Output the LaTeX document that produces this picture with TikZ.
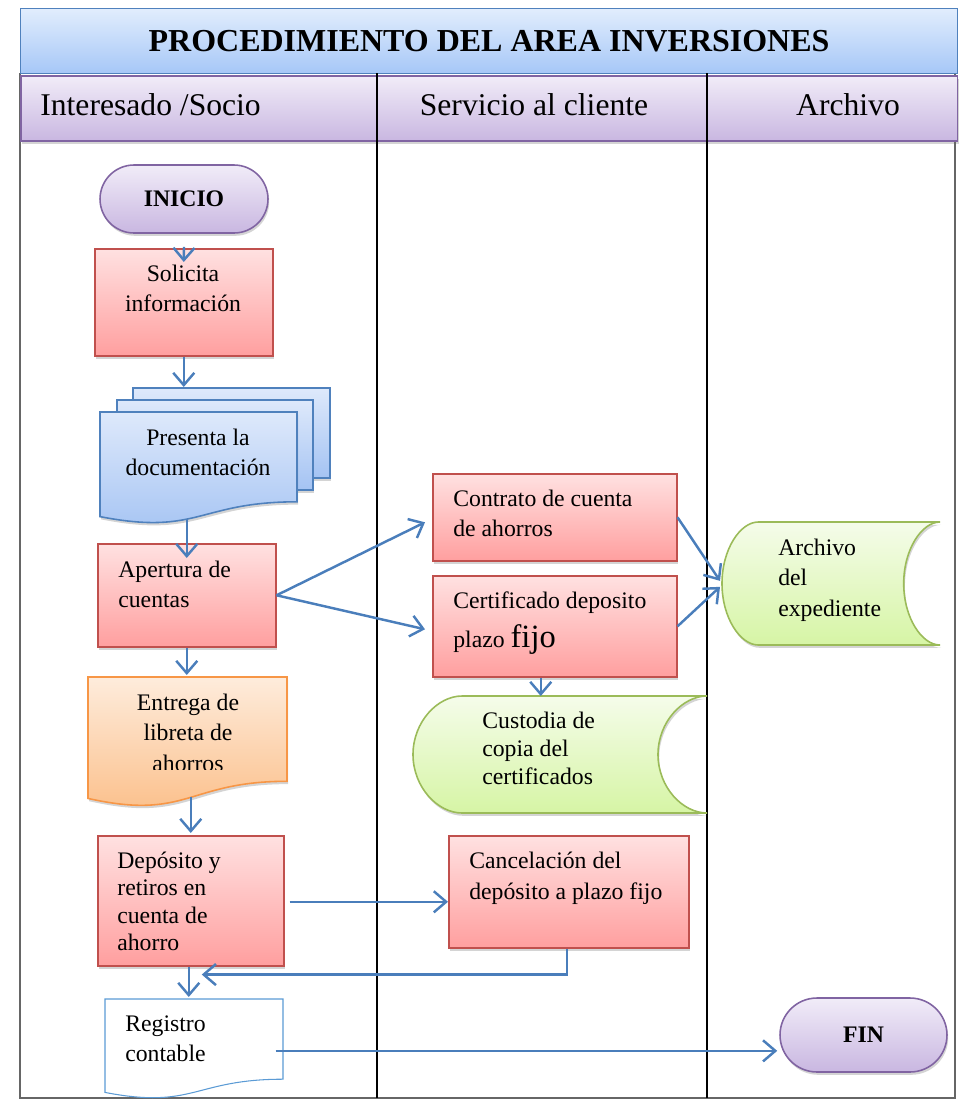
\documentclass[tikz,border=0pt]{standalone}
\usepackage{fontspec}
\setmainfont{Liberation Serif}
\usetikzlibrary{arrows.meta,calc,positioning,shadows,shapes.misc}

\definecolor{arrowblue}{HTML}{4A7EBB}
\definecolor{redline}{HTML}{C0504D}
\definecolor{redtop}{HTML}{FFE1E1}
\definecolor{redbot}{HTML}{FF9F9F}
\definecolor{blueline}{HTML}{4F81BD}
\definecolor{bluetop}{HTML}{DEE9FB}
\definecolor{bluebot}{HTML}{A4C3F3}
\definecolor{titletop}{HTML}{E1EDFD}
\definecolor{titlebot}{HTML}{A6C7F7}
\definecolor{purpline}{HTML}{8064A2}
\definecolor{purptop}{HTML}{F1ECF8}
\definecolor{purpbot}{HTML}{C9B7E1}
\definecolor{greenline}{HTML}{9BBB59}
\definecolor{greentop}{HTML}{F5FCEA}
\definecolor{greenbot}{HTML}{D6F5A5}
\definecolor{orangeline}{HTML}{F79646}
\definecolor{orangetop}{HTML}{FEECDC}
\definecolor{orangebot}{HTML}{FBBD86}
\definecolor{regline}{HTML}{5B9BD5}

% lines of text, baseline at the first line
\newcommand{\lns}[3][17.5pt]{{\fontsize{13.5}{#1}\selectfont
  \begin{tabular}[t]{@{}#2@{}}#3\end{tabular}}}

\tikzset{
  softshadow/.style={drop shadow={shadow xshift=0.7pt, shadow yshift=-1.6pt,
      opacity=0.28, fill=black!60}},
  flow/.style={draw=arrowblue, line width=1.4pt,
    -{Straight Barb[length=7pt,width=12pt]}},
  lane/.style={draw=black, line width=0.9pt},
  framel/.style={draw=black!60, line width=0.6pt},
  txt/.style={inner sep=0pt},
  hold/.style={rectangle, anchor=north west, inner sep=0pt},
  redbox/.style={hold, draw=redline, line width=0.9pt,
    top color=redtop, bottom color=redbot, softshadow},
  term/.style={rounded rectangle, inner sep=0pt,
    draw=purpline, line width=0.9pt, top color=purptop, bottom color=purpbot,
    font=\fontsize{13.5}{16}\selectfont\bfseries, softshadow},
  bluedoc/.style={draw=blueline, line width=0.9pt,
    top color=bluetop, bottom color=bluebot, softshadow},
  greendata/.style={draw=greenline, line width=0.9pt,
    top color=greentop, bottom color=greenbot, softshadow},
  orangedoc/.style={draw=orangeline, line width=0.9pt,
    top color=orangetop, bottom color=orangebot, softshadow},
  whitedoc/.style={draw=regline, line width=0.6pt, fill=white},
}

\begin{document}
\begin{tikzpicture}[x=0.02cm, y=-0.02cm]
  \useasboundingbox (0,0) rectangle (961,1100);
  \draw[framel] (20,73) -- (20,1098) -- (955,1098) -- (955,73);

  % header
  \node[hold, draw=blueline, line width=0.8pt, top color=titletop,
    bottom color=titlebot, minimum width=18.74cm, minimum height=1.30cm,
    font=\fontsize{18.2}{22}\selectfont\bfseries]
    (title) at (20,8) {PROCEDIMIENTO DEL AREA INVERSIONES};
  \node[hold, draw=purpline, line width=0.9pt, top color=purptop,
    bottom color=purpbot, minimum width=18.74cm, minimum height=1.30cm,
    softshadow] (bar) at (20,75) {};
  \node[txt, anchor=base west, font=\fontsize{18}{22}\selectfont]
    (l1) at (40,115) {Interesado /Socio};
  \node[txt, anchor=base, font=\fontsize{18}{22}\selectfont]
    (l2) at (534,115) {Servicio al cliente};
  \node[txt, anchor=base, font=\fontsize{18}{22}\selectfont]
    (l3) at (848,115) {Archivo};
  \draw[lane] (377,73) -- (377,1098);
  \draw[lane] (707,73) -- (707,1098);

  % Interesado / Socio
  \node[term, minimum width=3.36cm, minimum height=1.36cm] (ini) at (184,199) {INICIO};
  \node[redbox, minimum width=3.56cm, minimum height=2.14cm] (sol) at (94,248) {};
  \node[txt, anchor=base] (sol-t) at (183,281) {\lns{c}{Solicita\\información}};

  \path[bluedoc] (133,388) rectangle (330,478);
  \path[bluedoc] (117,400) rectangle (313,490);
  \path[bluedoc] (100,412) -- (297,412) -- (297,501.8)
    .. controls (198.5,501.8) and (198.5,536) .. (100,516.6) -- cycle;
  \node[hold, minimum width=4.60cm, minimum height=2.68cm] (pres) at (100,388) {};
  \node[txt, anchor=base] (pres-t) at (198,445) {\lns{c}{Presenta la\\documentación}};

  \node[redbox, minimum width=3.56cm, minimum height=2.06cm] (ape) at (97,543) {};
  \node[txt, anchor=base west] (ape-t) at (118,577) {\lns{l}{Apertura de\\cuentas}};

  \path[orangedoc] (88,677) -- (287,677) -- (287,781.3)
    .. controls (187.5,781.3) and (187.5,820.9) .. (88,798.4) -- cycle;
  \node[hold, minimum width=3.98cm, minimum height=2.46cm] (ent) at (88,677) {};
  \begin{scope}
    \clip (88,677) rectangle (287,769);
    \node[txt, anchor=base] (ent-t) at (188,710) {\lns{c}{Entrega de\\libreta de\\ahorros}};
  \end{scope}

  \node[redbox, minimum width=3.72cm, minimum height=2.60cm] (dep) at (97,835) {};
  \node[txt, anchor=base west] (dep-t) at (117,868)
    {\lns[15.7pt]{l}{Depósito y\\retiros en\\cuenta de\\ahorro}};

  \path[whitedoc] (105,999) -- (283,999) -- (283,1079.2)
    .. controls (194,1079.2) and (194,1109.7) .. (105,1092.4) -- cycle;
  \node[hold, minimum width=3.56cm, minimum height=1.86cm] (reg) at (105,999) {};
  \node[txt, anchor=base west] (reg-t) at (125,1031) {\lns{l}{Registro\\contable}};

  % Servicio al cliente
  \node[redbox, minimum width=4.88cm, minimum height=1.74cm] (con) at (432,473) {};
  \node[txt, anchor=base west] (con-t) at (453,506) {\lns{l}{Contrato de cuenta\\de ahorros}};

  \node[redbox, minimum width=4.88cm, minimum height=2.02cm] (cer) at (432,575) {};
  \node[txt, anchor=base west] (cer-t) at (453,608)
    {\lns{l}{Certificado deposito\\[4pt]plazo {\fontsize{18.5}{20}\selectfont fijo}}};

  \path[greendata] (462,696) -- (707,696)
    .. controls (682.5,696) and (658,722) .. (658,754.5)
    .. controls (658,787) and (682.5,813) .. (707,813) -- (462,813)
    .. controls (437.5,813) and (413,787) .. (413,754.5)
    .. controls (413,722) and (437.5,696) .. (462,696) -- cycle;
  \node[hold, minimum width=5.88cm, minimum height=2.34cm] (cus) at (413,696) {};
  \node[txt, anchor=base west] (cus-t) at (482,728)
    {\lns[16pt]{l}{Custodia de\\copia del\\certificados}};

  \node[redbox, minimum width=4.80cm, minimum height=2.24cm] (can) at (448,835) {};
  \node[txt, anchor=base west] (can-t) at (469,868)
    {\lns[18pt]{l}{Cancelación del\\depósito a plazo fijo}};

  % Archivo
  \path[greendata] (758.3,522) -- (940,522)
    .. controls (921.8,522) and (903.7,549.3) .. (903.7,583.5)
    .. controls (903.7,617.7) and (921.8,645) .. (940,645) -- (758.3,645)
    .. controls (740.2,645) and (722,617.7) .. (722,583.5)
    .. controls (722,549.3) and (740.2,522) .. (758.3,522) -- cycle;
  \node[hold, minimum width=4.36cm, minimum height=2.46cm] (arc) at (722,522) {};
  \node[txt, anchor=base west] (arc-t) at (778,555) {\lns{l}{Archivo\\del\\expediente}};

  \node[term, minimum width=3.34cm, minimum height=1.48cm] (fin) at (863.5,1035) {FIN};

  % connectors
  \draw[flow] ($(ini.south)+(0,13)$) -- ($(sol.north)+(0,14)$);
  \draw[flow] (sol.south) -- ($(sol.south |- pres.north)+(0,-1)$);
  \draw[flow] ($(ape.north |- pres.south)+(0,-3)$) -- ($(ape.north)+(0,15)$);
  \draw[flow] (ape.east) -- ($(con.west)+(-7,5)$);
  \draw[flow] (ape.east) -- ($(cer.west)+(-7,3)$);
  \draw[flow] (con.east) -- ($(arc.west)+(-2,-3)$);
  \draw[flow] (cer.east) -- ($(arc.west)+(-2,3)$);
  \coordinate (cer-out) at ($(cer.south)+(-14,0)$);
  \draw[flow] (cer-out) -- (cer-out |- cus.north);
  \draw[flow] (ape.south) -- ($(ape.south |- ent.north)+(0,-2)$);
  \draw[flow] ($(dep.north |- ent.south)+(0,-4)$) -- ($(dep.north)+(0,-2)$);
  \draw[flow] ($(dep.east)+(5,1)$) -- ($(dep.east -| can.west)+(0,1)$);
  \draw[flow] ($(can.south)+(-2,0)$) |- ($(dep.south)+(11,8)$);
  \draw[flow] ($(dep.south)+(-2,0)$) -- ($(dep.south |- reg.north)+(-2,-2)$);
  \coordinate (reg-out) at ($(reg.east)+(-8,5)$);
  \draw[flow] (reg-out) -- ($(reg-out -| fin.west)+(-2,0)$);
\end{tikzpicture}
\end{document}
